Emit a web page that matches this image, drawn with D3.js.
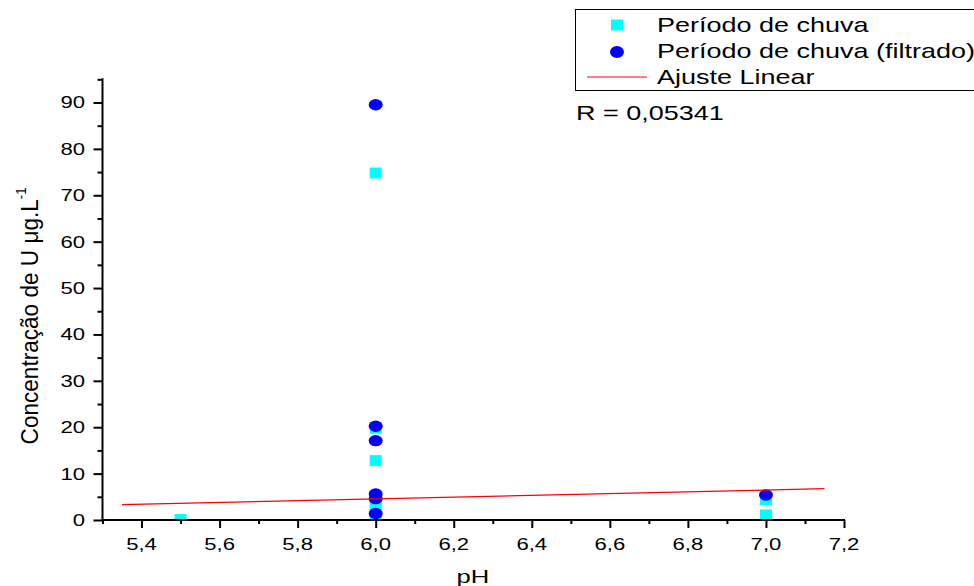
<!DOCTYPE html>
<html>
<head>
<meta charset="utf-8">
<script src="https://cdn.jsdelivr.net/npm/d3@7"></script>
<style>
  html, body { margin: 0; padding: 0; background: #fff; }
  svg { display: block; font-family: "Liberation Sans", Arial, sans-serif; }
</style>
</head>
<body>
<svg id="chart" width="974" height="586"></svg>
<script>
// Uranium concentration vs. pH, rainy period
const rainPH    = [5.5, 6.0, 6.0, 6.0, 6.0, 6.0, 7.0, 7.0];
const rainConc  = [0.1, 74.8, 19.8, 12.8, 3.3, 0.8, 4.4, 1.1];
const filtPH    = [6.0, 6.0, 6.0, 6.0, 6.0, 6.0, 7.0];
const filtConc  = [89.5, 20.2, 17.1, 5.6, 4.6, 1.4, 5.4];
const fitRange  = [5.35, 7.15];
const fitIntercept = -6.96;
const fitSlope     = 1.917;
const xTicks = [5.4, 5.6, 5.8, 6.0, 6.2, 6.4, 6.6, 6.8, 7.0, 7.2];
const xMinorTicks = [5.3, 5.5, 5.7, 5.9, 6.1, 6.3, 6.5, 6.7, 6.9, 7.1];
const yTicks = [0, 10, 20, 30, 40, 50, 60, 70, 80, 90];
const yMinorTicks = [5, 15, 25, 35, 45, 55, 65, 75, 85, 95];
const legendLabels = ["Período de chuva", "Período de chuva (filtrado)", "Ajuste Linear"];
const rLabel = "R = 0,05341";

const svg = d3.select("#chart");
const pLeft = 102.5, pRight = 844, pTop = 79.3, pBottom = 520;
const x = d3.scaleLinear().domain([5.3, 7.2]).range([pLeft, pRight]);
const y = d3.scaleLinear().domain([0, 95]).range([pBottom, pTop]);
const fmt = d3.formatLocale({decimal: ",", thousands: ".", grouping: [3], currency: ["", ""]}).format(".1f");

// text drawn with a horizontal stretch
function stretchedText(g, tx, ty, str, size, sx, anchor) {
  return g.append("text")
    .attr("transform", `translate(${tx},${ty}) scale(${sx},1)`)
    .attr("text-anchor", anchor || "start")
    .attr("font-size", size)
    .attr("fill", "#000")
    .text(str);
}

svg.append("defs").append("clipPath").attr("id", "plotclip")
  .append("rect").attr("x", pLeft).attr("y", 0).attr("width", pRight - pLeft + 20).attr("height", pBottom);

const plot = svg.append("g").attr("clip-path", "url(#plotclip)");

// Período de chuva: cyan squares
const sqW = 12, sqH = 11;
plot.selectAll("rect.rain").data(d3.range(rainPH.length)).join("rect")
  .attr("class", "rain")
  .attr("x", i => x(rainPH[i]) - sqW / 2)
  .attr("y", i => y(rainConc[i]) - sqH / 2)
  .attr("width", sqW).attr("height", sqH)
  .attr("fill", "#00ffff");

// Período de chuva (filtrado): blue circles
plot.selectAll("ellipse.filt").data(d3.range(filtPH.length)).join("ellipse")
  .attr("class", "filt")
  .attr("cx", i => x(filtPH[i]))
  .attr("cy", i => y(filtConc[i]))
  .attr("rx", 7).attr("ry", 5.7)
  .attr("fill", "#0000ff");

// Linear fit
plot.append("line")
  .attr("x1", x(fitRange[0])).attr("y1", y(fitIntercept + fitSlope * fitRange[0]))
  .attr("x2", x(fitRange[1])).attr("y2", y(fitIntercept + fitSlope * fitRange[1]))
  .attr("stroke", "#ff0000").attr("stroke-width", 1.2);

// Axes
const xAxis = svg.append("g").attr("transform", `translate(0,${pBottom})`);
xAxis.call(d3.axisBottom(x).tickValues(xTicks).tickSize(8).tickFormat(""));
xAxis.append("g").call(d3.axisBottom(x).tickValues(xMinorTicks).tickSize(4).tickFormat(""));
xAxis.selectAll(".domain").remove();
xAxis.append("line").attr("x1", pLeft - 1).attr("x2", pRight + 1).attr("stroke", "#000").attr("stroke-width", 2);
xAxis.selectAll(".tick line").attr("stroke", "#000").attr("stroke-width", 2);

const yAxis = svg.append("g").attr("transform", `translate(${pLeft},0)`);
yAxis.call(d3.axisLeft(y).tickValues(yTicks).tickSize(9).tickFormat(""));
yAxis.append("g").call(d3.axisLeft(y).tickValues(yMinorTicks).tickSize(5).tickFormat(""));
yAxis.selectAll(".domain").remove();
yAxis.append("line").attr("y1", pTop - 1).attr("y2", pBottom + 1).attr("stroke", "#000").attr("stroke-width", 2);
yAxis.selectAll(".tick line").attr("stroke", "#000").attr("stroke-width", 2);

// Tick labels
const labels = svg.append("g");
xTicks.forEach(v => stretchedText(labels, x(v), 550, fmt(v), 17, 1.3, "middle"));
yTicks.forEach(v => stretchedText(labels, 85, y(v) + 6, String(v), 17, 1.3, "end"));

// Axis titles
stretchedText(svg, 473, 583, "pH", 19, 1.35, "middle");
const yt = svg.append("text")
  .attr("text-anchor", "middle")
  .attr("font-size", 19)
  .attr("fill", "#000");
yt.append("tspan").text("Concentração de U μg.L");
yt.append("tspan").attr("font-size", 11).attr("dy", -9).text("-1");
const len = yt.node().getComputedTextLength();
yt.attr("transform", `translate(38,316) rotate(-90) scale(${257 / len},1.3)`);

// Legend
const lg = svg.append("g");
lg.append("rect").attr("x", 575.5).attr("y", 9.5).attr("width", 420).attr("height", 81)
  .attr("fill", "#fff").attr("stroke", "#000").attr("stroke-width", 1);
lg.append("rect").attr("x", 617 - 6).attr("y", 25 - 5.5).attr("width", 12).attr("height", 11).attr("fill", "#00ffff");
lg.append("ellipse").attr("cx", 617).attr("cy", 52).attr("rx", 7).attr("ry", 6).attr("fill", "#0000ff");
lg.append("line").attr("x1", 587).attr("x2", 647).attr("y1", 77).attr("y2", 77).attr("stroke", "#ff0000").attr("stroke-width", 1);
legendLabels.forEach((t, i) => stretchedText(lg, 657, 32 + i * 26, t, 20, 1.35, "start"));

stretchedText(svg, 576, 120, rLabel, 20, 1.35, "start");
</script>
</body>
</html>
